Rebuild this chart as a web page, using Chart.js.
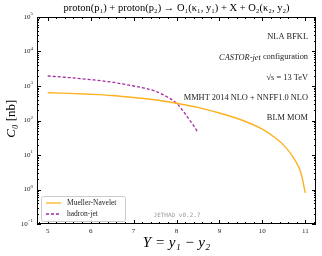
<!DOCTYPE html>
<html>
<head>
<meta charset="utf-8">
<script src="https://cdn.jsdelivr.net/npm/chart.js@4.4.0/dist/chart.umd.min.js"></script>
<style>
  html, body { margin: 0; padding: 0; background: #fff; }
  #c { display: block; }
</style>
</head>
<body>
<canvas id="c" width="322" height="256"></canvas>
<script>
// Mueller-Navelet
const mnY = [5, 5.5, 6, 6.5, 7, 7.5, 8, 8.5, 9, 9.5, 10, 10.25, 10.5, 10.75, 10.9, 11];
const mnC0 = [640, 610, 575, 530, 465, 400, 315, 240, 165, 105, 56, 35, 19, 7.5, 3, 0.8];
// hadron-jet
const hjY = [5, 5.5, 6, 6.5, 7, 7.25, 7.5, 7.75, 8, 8.15, 8.3, 8.4, 8.5];
const hjC0 = [1950, 1760, 1530, 1290, 1000, 870, 710, 510, 316, 190, 105, 71, 45];

const xTicks = [5, 6, 7, 8, 9, 10, 11];
const yExps = [-1, 0, 1, 2, 3, 4, 5];
const notes = ['NLA BFKL', 'CASTOR-jet configuration', '√s = 13 TeV', 'MMHT 2014 NLO + NNFF1.0 NLO', 'BLM MOM'];

const orange = '#ffb020';
const purple = '#a52aa5';
const serif = '"Liberation Serif", "DejaVu Serif", serif';

const toPts = (xs, ys) => xs.map((x, i) => ({ x: x, y: ys[i] }));

const frame = {
  id: 'frame',
  afterDraw(chart) {
    const { ctx, chartArea: a, scales } = chart;
    const xs = scales.x, ys = scales.y;
    ctx.save();
    ctx.strokeStyle = '#000';
    ctx.lineWidth = 1;
    ctx.strokeRect(a.left + 0.5, a.top + 0.5, a.right - a.left - 1, a.bottom - a.top - 1);

    // ticks, inward, on all four sides
    ctx.beginPath();
    for (let v = 4.8; v <= 11.21; v += 0.2) {
      const px = Math.round(xs.getPixelForValue(v)) + 0.5;
      if (px < a.left || px > a.right) continue;
      const major = Math.abs(v - Math.round(v)) < 0.01;
      const len = major ? 4 : 2;
      ctx.moveTo(px, a.bottom); ctx.lineTo(px, a.bottom - len);
      ctx.moveTo(px, a.top); ctx.lineTo(px, a.top + len);
    }
    for (let e = -1; e <= 5; e++) {
      for (let m = 1; m <= 9; m++) {
        const v = m * Math.pow(10, e);
        if (v > 1e5) break;
        const py = Math.round(ys.getPixelForValue(v)) + 0.5;
        const len = m === 1 ? 4 : 2;
        ctx.moveTo(a.left, py); ctx.lineTo(a.left + len, py);
        ctx.moveTo(a.right, py); ctx.lineTo(a.right - len, py);
      }
    }
    ctx.stroke();

    // tick labels
    ctx.fillStyle = '#222';
    ctx.font = '7px ' + serif;
    ctx.textAlign = 'center';
    ctx.textBaseline = 'top';
    xTicks.forEach(t => ctx.fillText(String(t), xs.getPixelForValue(t), a.bottom + 4));
    yExps.forEach(e => {
      const py = ys.getPixelForValue(Math.pow(10, e));
      const ex = e < 0 ? '\u2212' + Math.abs(e) : String(e);
      ctx.font = '5px ' + serif;
      const w2 = ctx.measureText(ex).width;
      ctx.textAlign = 'right';
      ctx.textBaseline = 'middle';
      ctx.fillText(ex, a.left - 4, py - 3);
      ctx.font = '7px ' + serif;
      ctx.fillText('10', a.left - 4 - w2, py);
    });

    // title
    ctx.fillStyle = '#000';
    ctx.textAlign = 'center';
    ctx.textBaseline = 'middle';
    ctx.font = '10.5px ' + serif;
    ctx.fillText('proton(p\u2081) + proton(p\u2082) \u2192 O\u2081(\u03ba\u2081, y\u2081) + X + O\u2082(\u03ba\u2082, y\u2082)', (a.left + a.right) / 2, 8);

    // axis titles
    ctx.font = 'italic 15px ' + serif;
    ctx.fillText('Y = y\u2081 \u2212 y\u2082', (a.left + a.right) / 2, 243);
    ctx.save();
    ctx.translate(12, (a.top + a.bottom) / 2);
    ctx.rotate(-Math.PI / 2);
    ctx.font = 'italic 13px ' + serif;
    ctx.textAlign = 'right';
    ctx.fillText('C\u2080', -4, 0);
    ctx.font = '13px ' + serif;
    ctx.textAlign = 'left';
    ctx.fillText(' [nb]', -4, 0);
    ctx.restore();

    // notes
    ctx.textAlign = 'right';
    ctx.fillStyle = '#222';
    const fs = '8.4px ';
    notes.forEach((n, i) => {
      const py = 37 + i * 20.3;
      if (i === 1) {
        ctx.font = fs + serif;
        const rest = ' configuration';
        ctx.fillText(rest, a.right - 8, py);
        const w = ctx.measureText(rest).width;
        ctx.font = 'italic ' + fs + serif;
        ctx.fillText('CASTOR-jet', a.right - 8 - w, py);
      } else {
        ctx.font = fs + serif;
        ctx.fillText(n, a.right - 8, py);
      }
    });

    // watermark
    ctx.textAlign = 'center';
    ctx.fillStyle = '#999';
    ctx.font = '6px "DejaVu Sans Mono", monospace';
    ctx.fillText('JETHAD v0.2.7', 177, 215);

    // legend
    const lx = 41, ly = 196, lw = 84, lh = 25;
    ctx.fillStyle = 'rgba(255,255,255,0.9)';
    ctx.strokeStyle = '#ccc';
    ctx.lineWidth = 1;
    ctx.beginPath();
    ctx.roundRect(lx + 0.5, ly + 0.5, lw, lh, 2);
    ctx.fill();
    ctx.stroke();
    chart.data.datasets.forEach((ds, i) => {
      const py = ly + 7 + i * 11;
      ctx.strokeStyle = ds.borderColor;
      ctx.lineWidth = 1.3;
      ctx.setLineDash(ds.borderDash || []);
      ctx.beginPath();
      ctx.moveTo(lx + 5, py); ctx.lineTo(lx + 20, py);
      ctx.stroke();
      ctx.setLineDash([]);
      ctx.fillStyle = '#222';
      ctx.textAlign = 'left';
      ctx.font = '7.5px ' + serif;
      ctx.fillText(ds.label, lx + 26, py);
    });
    ctx.restore();
  }
};

new Chart(document.getElementById('c'), {
  type: 'line',
  data: {
    datasets: [{
      label: 'Mueller-Navelet',
      data: toPts(mnY, mnC0),
      borderColor: orange,
      borderWidth: 1.4,
      pointRadius: 0,
      cubicInterpolationMode: 'monotone',
      fill: false
    }, {
      label: 'hadron-jet',
      data: toPts(hjY, hjC0),
      borderColor: purple,
      borderWidth: 1.3,
      borderDash: [3, 2],
      pointRadius: 0,
      cubicInterpolationMode: 'monotone',
      fill: false
    }]
  },
  options: {
    responsive: false,
    animation: false,
    layout: { padding: { top: 17, right: 6, left: 0, bottom: 0 } },
    plugins: { legend: { display: false }, tooltip: { enabled: false } },
    scales: {
      x: {
        type: 'linear',
        min: 4.75,
        max: 11.25,
        grid: { display: false },
        border: { display: false },
        ticks: { display: false },
        afterFit: s => { s.height = 32; }
      },
      y: {
        type: 'logarithmic',
        min: 0.1,
        max: 1e5,
        grid: { display: false },
        border: { display: false },
        ticks: { display: false },
        afterFit: s => { s.width = 37; }
      }
    }
  },
  plugins: [frame]
});
</script>
</body>
</html>
